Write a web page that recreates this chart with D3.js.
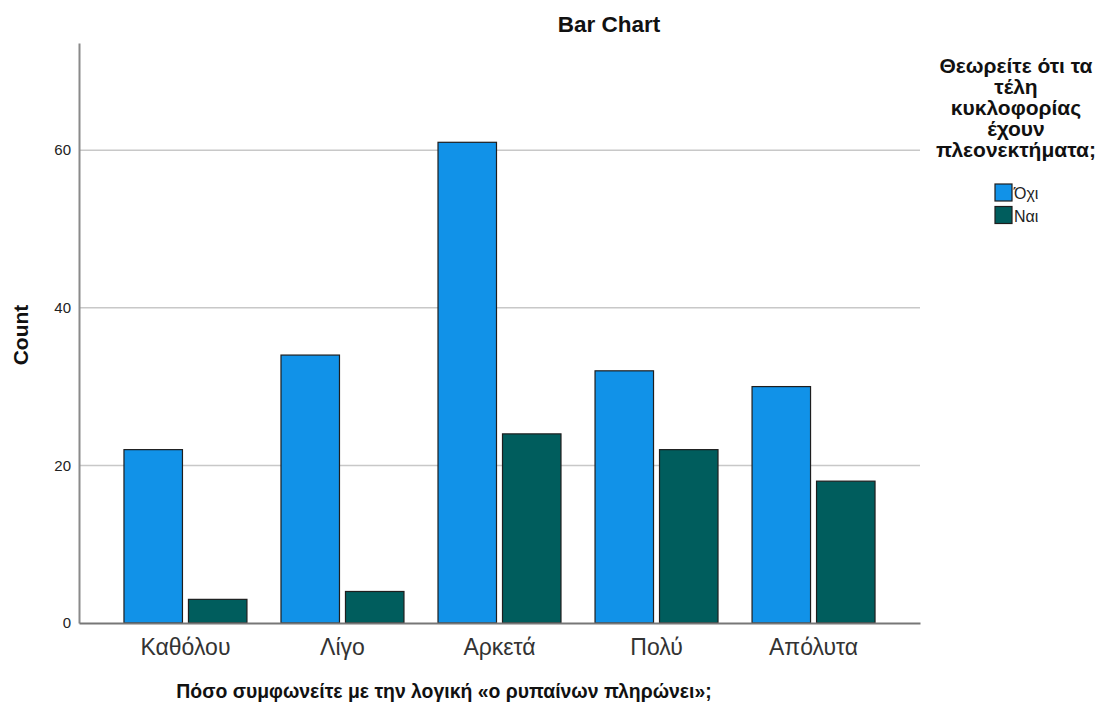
<!DOCTYPE html>
<html>
<head>
<meta charset="utf-8">
<script src="https://cdn.jsdelivr.net/npm/d3@7"></script>
<style>
  html, body { margin: 0; padding: 0; background: #fff; }
  svg { display: block; font-family: "Liberation Sans", Arial, sans-serif; }
</style>
</head>
<body>
<svg id="chart" width="1113" height="706"></svg>
<script>
// Categories on the x axis
const categories = ["Καθόλου", "Λίγο", "Αρκετά", "Πολύ", "Απόλυτα"];
// Legend groups
const groups = ["Όχι", "Ναι"];
// Counts per category for each group
const countNo  = [22, 34, 61, 32, 30];
const countYes = [3, 4, 24, 22, 18];
// Y axis tick values
const yTicks = [0, 20, 40, 60];

const colors = ["#1192e8", "#005d5d"];
const chartTitle = "Bar Chart";
const xTitle = "Πόσο συμφωνείτε με την λογική «ο ρυπαίνων πληρώνει»;";
const yTitle = "Count";
const legendTitle = ["Θεωρείτε ότι τα", "τέλη", "κυκλοφορίας", "έχουν", "πλεονεκτήματα;"];

const seriesValues = [countNo, countYes];
const rows = categories.map((c, i) => ({
  category: c,
  values: groups.map((g, j) => ({ group: g, value: seriesValues[j][i], idx: j }))
}));

const svg = d3.select("#chart");
const plot = { left: 79, right: 920, top: 43, bottom: 623 };

const x0 = d3.scaleBand()
  .domain(categories)
  .range([plot.left, plot.right])
  .paddingInner(0)
  .paddingOuter(0.178);

const x1 = d3.scaleBand()
  .domain(groups)
  .range([0, x0.bandwidth()])
  .paddingInner(0.093)
  .paddingOuter(0.264);

const y = d3.scaleLinear()
  .domain([0, 73.6])
  .range([plot.bottom, plot.top]);

// Horizontal grid lines
svg.append("g")
  .selectAll("line")
  .data(yTicks.filter(d => d > 0))
  .join("line")
  .attr("x1", plot.left)
  .attr("x2", plot.right)
  .attr("y1", d => y(d))
  .attr("y2", d => y(d))
  .attr("stroke", "#c8c8c8")
  .attr("stroke-width", 1.5);

// Bars
const gBars = svg.append("g");
gBars.selectAll("g")
  .data(rows)
  .join("g")
  .attr("transform", d => `translate(${x0(d.category)},0)`)
  .selectAll("rect")
  .data(d => d.values)
  .join("rect")
  .attr("x", d => x1(d.group))
  .attr("width", x1.bandwidth())
  .attr("y", d => y(d.value))
  .attr("height", d => y(0) - y(d.value))
  .attr("fill", d => colors[d.idx])
  .attr("stroke", "#1e1e1e")
  .attr("stroke-width", 1.2);

// Y axis
const yAxis = d3.axisLeft(y).tickValues(yTicks).tickSize(0).tickPadding(8);
const gy = svg.append("g")
  .attr("transform", `translate(${plot.left},0)`)
  .call(yAxis);
gy.select(".domain").attr("stroke", "#8a8a8a").attr("stroke-width", 2);
gy.selectAll(".tick text")
  .attr("font-size", 15)
  .attr("fill", "#222")
  .attr("font-family", "Liberation Sans, Arial, sans-serif");

// X axis
const xAxis = d3.axisBottom(x0).tickSize(0).tickPadding(16);
const gx = svg.append("g")
  .attr("transform", `translate(0,${plot.bottom})`)
  .call(xAxis);
gx.select(".domain").attr("stroke", "#777").attr("stroke-width", 2);
gx.selectAll(".tick text")
  .attr("font-size", 23)
  .attr("fill", "#333")
  .attr("font-family", "Liberation Sans, Arial, sans-serif");

// Title
svg.append("text")
  .attr("x", 609)
  .attr("y", 32)
  .attr("text-anchor", "middle")
  .attr("font-size", 22.5)
  .attr("font-weight", "bold")
  .attr("fill", "#111")
  .text(chartTitle);

// Axis titles
svg.append("text")
  .attr("x", 444)
  .attr("y", 698)
  .attr("text-anchor", "middle")
  .attr("font-size", 19.4)
  .attr("font-weight", "bold")
  .attr("fill", "#111")
  .text(xTitle);

svg.append("text")
  .attr("transform", `translate(28,335) rotate(-90)`)
  .attr("text-anchor", "middle")
  .attr("font-size", 21)
  .attr("font-weight", "bold")
  .attr("fill", "#111")
  .text(yTitle);

// Legend
const legend = svg.append("g");
legend.selectAll("text.lt")
  .data(legendTitle)
  .join("text")
  .attr("class", "lt")
  .attr("x", 1016)
  .attr("y", (d, i) => 73 + i * 21)
  .attr("text-anchor", "middle")
  .attr("font-size", 21)
  .attr("font-weight", "bold")
  .attr("fill", "#111")
  .text(d => d);

const items = legend.selectAll("g.item")
  .data(groups)
  .join("g")
  .attr("class", "item")
  .attr("transform", (d, i) => `translate(995,${184 + i * 22.5})`);
items.append("rect")
  .attr("width", 17)
  .attr("height", 17)
  .attr("fill", (d, i) => colors[i])
  .attr("stroke", "#1e1e1e")
  .attr("stroke-width", 1.2);
items.append("text")
  .attr("x", 19)
  .attr("y", 15)
  .attr("font-size", 16)
  .attr("fill", "#222")
  .text(d => d);
</script>
</body>
</html>
